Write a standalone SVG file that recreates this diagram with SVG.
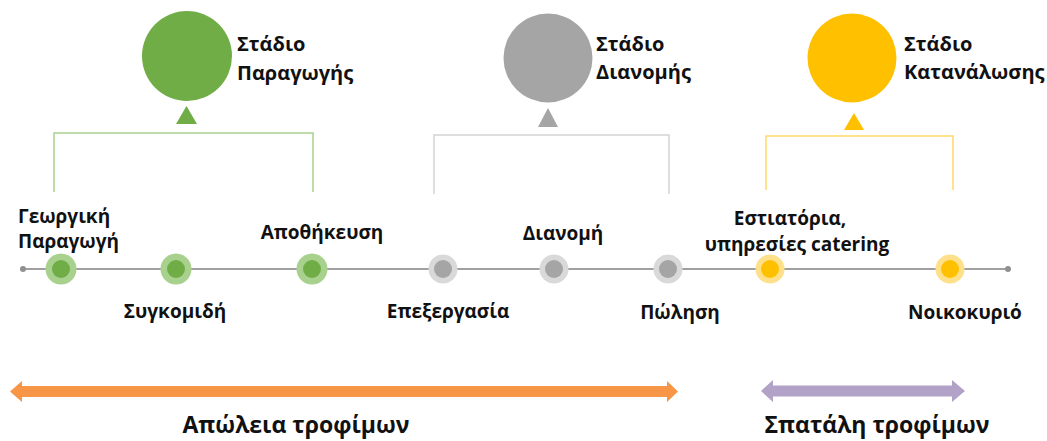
<svg xmlns="http://www.w3.org/2000/svg" width="1047" height="441" viewBox="0 0 1047 441">
<style>
text{font-family:"Open Sans","Liberation Sans",sans-serif;font-weight:700;fill:#111}
.t{font-size:20px}
.s{font-size:19px}
.b{font-size:23px}
.gl{stroke:#A9D18E;stroke-width:1.5;fill:none}
.yl{stroke:#FFD966;stroke-width:1.5;fill:none}
.al{stroke:#D3D3D3;stroke-width:1.5;fill:none}
.go{fill:#A9D18E}.gi{fill:#70AD47}
.ao{fill:#D9D9D9}.ai{fill:#A5A5A5}
.yo{fill:#FFE08A}.yi{fill:#FFC000}
</style>
<g id="connectors">
<line x1="23" y1="269" x2="1008" y2="269" stroke="#A0A0A0" stroke-width="2"/>
<circle cx="23" cy="269" r="3" fill="#909090"/>
<circle cx="1008" cy="269" r="3" fill="#909090"/>
<path class="gl" d="M54,192V133H313V192"/>
<path class="al" d="M434,194V135H669V194"/>
<path class="yl" d="M766,190V136H953V190"/>
<polygon points="186.5,106 176,124 197,124" fill="#70AD47"/>
<polygon points="548,108 538,127 558,127" fill="#A5A5A5"/>
<polygon points="854,113 844,130 864,130" fill="#FFC000"/>
<polygon points="10,391.5 22,381 22,386 667,386 667,381 678,391.5 667,402 667,397 22,397 22,402" fill="#F79646"/>
<polygon points="761,391 773,380 773,385.5 952,385.5 952,380 965,391 952,402 952,396.5 773,396.5 773,402" fill="#B3A2C7"/>
</g>
<g id="stage-production">
<circle cx="187" cy="56" r="45" fill="#70AD47"/>
<text class="t" x="237" y="51">Στάδιο</text>
<text class="t" x="237" y="80">Παραγωγής</text>
</g>
<g id="stage-distribution">
<circle cx="548" cy="58" r="44.5" fill="#A5A5A5"/>
<text class="t" x="596" y="51">Στάδιο</text>
<text class="t" x="596" y="79">Διανομής</text>
</g>
<g id="stage-consumption">
<circle cx="852" cy="58" r="44.5" fill="#FFC000"/>
<text class="t" x="904" y="51">Στάδιο</text>
<text class="t" x="904" y="79">Κατανάλωσης</text>
</g>
<g id="n1"><circle class="go" cx="61" cy="269" r="15.5"/><circle class="gi" cx="61" cy="269" r="9"/>
<text class="s" x="18" y="223">Γεωργική</text><text class="s" x="18" y="248">Παραγωγή</text></g>
<g id="n2"><circle class="go" cx="176" cy="269" r="15.5"/><circle class="gi" cx="176" cy="269" r="9"/>
<text class="s" x="175" y="318" text-anchor="middle">Συγκομιδή</text></g>
<g id="n3"><circle class="go" cx="312" cy="269" r="15.5"/><circle class="gi" cx="312" cy="269" r="9"/>
<text class="s" x="322" y="239" text-anchor="middle">Αποθήκευση</text></g>
<g id="n4"><circle class="ao" cx="443" cy="269" r="14.5"/><circle class="ai" cx="443" cy="269" r="9"/>
<text class="s" x="448" y="318" text-anchor="middle">Επεξεργασία</text></g>
<g id="n5"><circle class="ao" cx="554" cy="269" r="14.5"/><circle class="ai" cx="554" cy="269" r="9"/>
<text class="s" x="563" y="240" text-anchor="middle">Διανομή</text></g>
<g id="n6"><circle class="ao" cx="668" cy="269" r="14.5"/><circle class="ai" cx="668" cy="269" r="9"/>
<text class="s" x="680" y="319" text-anchor="middle">Πώληση</text></g>
<g id="n7"><circle class="yo" cx="770" cy="269" r="14.5"/><circle class="yi" cx="770" cy="269" r="9"/>
<text class="s" x="790" y="225" text-anchor="middle">Εστιατόρια,</text><text class="s" x="797" y="251" text-anchor="middle">υπηρεσίες catering</text></g>
<g id="n8"><circle class="yo" cx="950" cy="269" r="14.5"/><circle class="yi" cx="950" cy="269" r="9"/>
<text class="s" x="965" y="319" text-anchor="middle">Νοικοκυριό</text></g>
<g id="loss"><text class="b" x="296" y="433" text-anchor="middle">Απώλεια τροφίμων</text></g>
<g id="waste"><text class="b" x="877" y="433" text-anchor="middle">Σπατάλη τροφίμων</text></g>
</svg>
